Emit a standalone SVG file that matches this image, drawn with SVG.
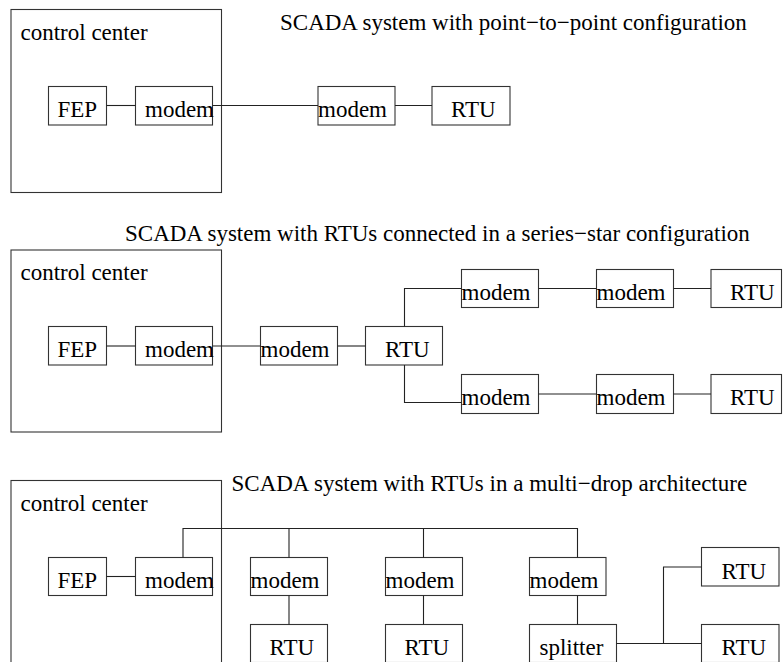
<svg xmlns="http://www.w3.org/2000/svg" width="783" height="662" viewBox="0 0 783 662">
<style>
rect{fill:none;stroke:#333;stroke-width:1.1}
.c line,.c path{fill:none;stroke:#222;stroke-width:1.1}
text{font-family:"Liberation Serif","Times New Roman",serif;font-size:23px;fill:#000}
</style>
<rect x="0" y="0" width="783" height="662" style="fill:#fff;stroke:none"/>
<!-- Section 1 -->
<text id="t1" x="280" y="29.5">SCADA system with point−to−point configuration</text>
<g id="s1-cc"><rect x="11" y="9.5" width="210.5" height="183"/><text x="20.5" y="39.5">control center</text></g>
<g id="s1-fep"><rect x="48.5" y="86.5" width="58" height="38.5"/><text x="57.5" y="117">FEP</text></g>
<g id="s1-modem1"><rect x="135.5" y="86.5" width="77" height="38.5"/><text x="145" y="117">modem</text></g>
<g id="s1-modem2"><rect x="318" y="86.5" width="77" height="38.5"/><text x="318" y="117">modem</text></g>
<g id="s1-rtu"><rect x="432" y="86.5" width="78" height="38.5"/><text x="451" y="117">RTU</text></g>
<!-- Section 2 -->
<text id="t2" x="125" y="241">SCADA system with RTUs connected in a series−star configuration</text>
<g id="s2-cc"><rect x="11" y="250" width="210.5" height="182"/><text x="20.5" y="280">control center</text></g>
<g id="s2-fep"><rect x="48.5" y="326.5" width="58" height="38.5"/><text x="57.5" y="357">FEP</text></g>
<g id="s2-modem1"><rect x="135.5" y="326.5" width="77" height="38.5"/><text x="145" y="357">modem</text></g>
<g id="s2-modem2"><rect x="260.5" y="326.5" width="77" height="38.5"/><text x="260.5" y="357">modem</text></g>
<g id="s2-rtu"><rect x="365.5" y="326.5" width="77" height="38.5"/><text x="385" y="357">RTU</text></g>
<g id="s2-modem-ta"><rect x="461.5" y="269.5" width="77" height="38"/><text x="461.5" y="300">modem</text></g>
<g id="s2-modem-tb"><rect x="596.5" y="269.5" width="77" height="38"/><text x="596.5" y="300">modem</text></g>
<g id="s2-rtu-t"><rect x="711" y="269.5" width="70.5" height="38"/><text x="730" y="300">RTU</text></g>
<g id="s2-modem-ba"><rect x="461.5" y="374.5" width="77" height="39"/><text x="461.5" y="405">modem</text></g>
<g id="s2-modem-bb"><rect x="596.5" y="374.5" width="77" height="39"/><text x="596.5" y="405">modem</text></g>
<g id="s2-rtu-b"><rect x="711" y="374.5" width="70.5" height="39"/><text x="730" y="405">RTU</text></g>
<!-- Section 3 -->
<text id="t3" x="231.5" y="491">SCADA system with RTUs in a multi−drop architecture</text>
<g id="s3-cc"><rect x="11" y="480.5" width="210.5" height="183"/><text x="20.5" y="510.5">control center</text></g>
<g id="s3-fep"><rect x="48.5" y="557.5" width="58" height="38"/><text x="57.5" y="588">FEP</text></g>
<g id="s3-modem1"><rect x="135.5" y="557.5" width="77" height="38"/><text x="145" y="588">modem</text></g>
<g id="s3-modem-a"><rect x="250.5" y="557.5" width="77" height="38"/><text x="250.5" y="588">modem</text></g>
<g id="s3-modem-b"><rect x="385.5" y="557.5" width="77" height="38"/><text x="385.5" y="588">modem</text></g>
<g id="s3-modem-c"><rect x="529.5" y="557.5" width="76.5" height="38"/><text x="529.5" y="588">modem</text></g>
<g id="s3-rtu-a"><rect x="250.5" y="624.5" width="77" height="38"/><text x="269.5" y="655">RTU</text></g>
<g id="s3-rtu-b"><rect x="385.5" y="624.5" width="77" height="38"/><text x="404.5" y="655">RTU</text></g>
<g id="s3-splitter"><rect x="529.5" y="624.5" width="87" height="38"/><text x="539.5" y="655">splitter</text></g>
<g id="s3-rtu-u"><rect x="701.5" y="547.5" width="77.5" height="38.5"/><text x="721.5" y="578.5">RTU</text></g>
<g id="s3-rtu-l"><rect x="701.5" y="624.5" width="77.5" height="38"/><text x="721.5" y="655">RTU</text></g>
<!-- Connectors -->
<g id="connectors" class="c">
<line x1="106.5" y1="105.5" x2="135.5" y2="105.5"/>
<line x1="212.5" y1="105.5" x2="318" y2="105.5"/>
<line x1="395" y1="105.5" x2="432" y2="105.5"/>
<line x1="106.5" y1="346" x2="135.5" y2="346"/>
<line x1="212.5" y1="346" x2="260.5" y2="346"/>
<line x1="337.5" y1="346" x2="365.5" y2="346"/>
<path d="M404.5 326.5V288.5H461.5"/>
<path d="M404.5 365V402.5H461.5"/>
<line x1="538.5" y1="288.5" x2="596.5" y2="288.5"/>
<line x1="673.5" y1="288.5" x2="711" y2="288.5"/>
<line x1="538.5" y1="394" x2="596.5" y2="394"/>
<line x1="673.5" y1="394" x2="711" y2="394"/>
<line x1="106.5" y1="576.5" x2="135.5" y2="576.5"/>
<path d="M183 557.5V528.5H577.5V557.5"/>
<line x1="289" y1="528.5" x2="289" y2="557.5"/>
<line x1="423.5" y1="528.5" x2="423.5" y2="557.5"/>
<line x1="289" y1="595.5" x2="289" y2="624.5"/>
<line x1="423.5" y1="595.5" x2="423.5" y2="624.5"/>
<line x1="577.5" y1="595.5" x2="577.5" y2="624.5"/>
<line x1="616.5" y1="643.5" x2="701.5" y2="643.5"/>
<path d="M663.5 643.5V567H701.5"/>
</g>
</svg>
